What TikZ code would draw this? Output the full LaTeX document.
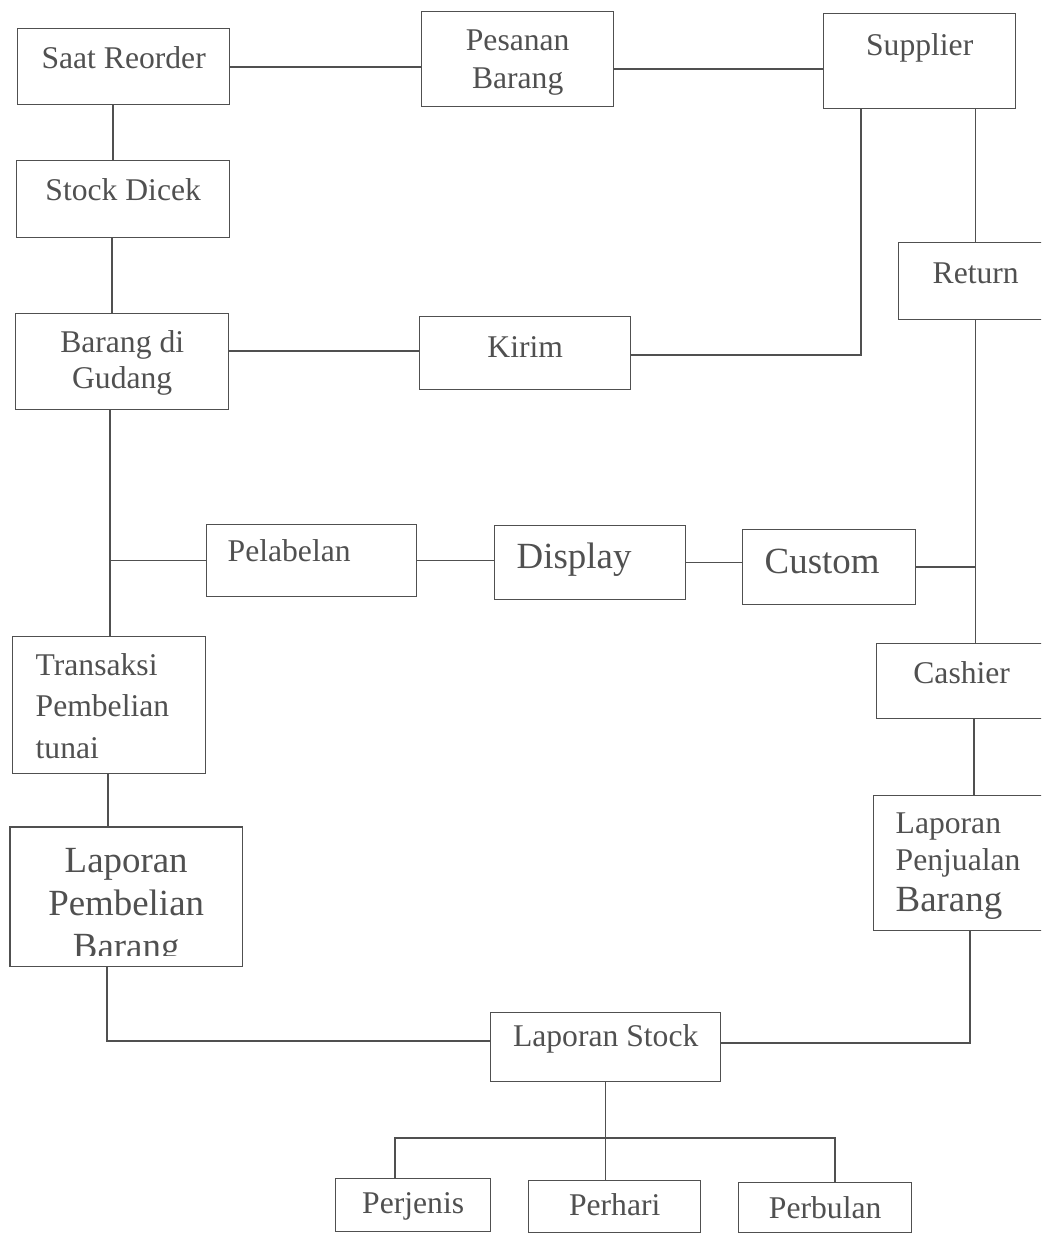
\documentclass[tikz,border=0pt]{standalone}
\usepackage{fontspec}
\setmainfont{Liberation Serif}
\definecolor{ink}{RGB}{80,80,80}
\newcommand{\boxfont}{\fontsize{18pt}{21.6pt}\selectfont}
\newcommand{\bigboxfont}{\fontsize{21pt}{24.4pt}\selectfont}
\begin{document}
\begin{tikzpicture}[
	x=0.02cm, y=-0.02cm,% one unit = one pixel of the scan
	box/.style={draw=ink, line width=0.8pt, text=ink, anchor=north west,
		inner xsep=0pt, inner ysep=0pt, font=\boxfont, align=center},
	link/.style={draw=ink, line width=0.8pt}
]
\path[use as bounding box] (0,0) rectangle (1041,1233);
\clip (0,0) rectangle (1041,1233);
%
% top row
\node(b_saat)%
    [box, minimum width=4.24cm, text height=0.8cm, text depth=0.72cm]%
    at (17,28) {Saat Reorder};%
\node(b_pesanan)%
    [box, minimum width=3.84cm, text height=1.54cm, text depth=0.36cm,
     font={\fontsize{18pt}{21.6pt}\selectfont}]%
    at (421,11) {Pesanan\\Barang};%
\node(b_supplier)%
    [box, minimum width=3.84cm, text height=0.84cm, text depth=1.06cm]%
    at (823,13) {Supplier};%
%
\node(b_stock)%
    [box, minimum width=4.26cm, text height=0.8cm, text depth=0.74cm]%
    at (16,160) {Stock Dicek};%
\node(b_return)%
    [box, minimum width=3.08cm, text height=0.82cm, text depth=0.72cm]%
    at (898,242) {Return};%
\node(b_gudang)%
    [box, minimum width=4.26cm, text height=1.5cm, text depth=0.42cm,
     font={\fontsize{18pt}{20.6pt}\selectfont}]%
    at (15,313) {Barang di\\Gudang};%
\node(b_kirim)%
    [box, minimum width=4.22cm, text height=0.82cm, text depth=0.64cm]%
    at (419,316) {Kirim};%
%
% middle row
\node(b_label)%
    [box, align=left, inner xsep=0.42cm, text width=3.36cm,
     text height=0.74cm, text depth=0.7cm]%
    at (206,524) {Pelabelan};%
\node(b_display)%
    [box, align=left, inner xsep=0.44cm, text width=2.94cm,
     text height=0.86cm, text depth=0.62cm, font=\bigboxfont]%
    at (494,525) {Display};%
\node(b_custom)%
    [box, align=left, inner xsep=0.44cm, text width=2.58cm,
     text height=0.88cm, text depth=0.62cm, font=\bigboxfont]%
    at (742,529) {Custom};%
%
\node(b_transaksi)%
    [box, align=left, inner xsep=0.46cm, text width=2.94cm,
     text height=0.78cm, text depth=1.96cm,
     font={\fontsize{18pt}{23.5pt}\selectfont}]%
    at (12,636) {Transaksi\\Pembelian\\tunai};%
\node(b_cashier)%
    [box, minimum width=3.4cm, text height=0.8cm, text depth=0.7cm]%
    at (876,643) {Cashier};%
%
% reports
\begin{scope}
\clip (0,0) rectangle (1041,955);
\node(b_lapbeli)%
    [box, draw=none, minimum width=4.62cm, text height=2.62cm, text depth=0.14cm,
     font=\bigboxfont]%
    at (10,827) {Laporan\\Pembelian\\Barang};%
\end{scope}
\draw[link] (b_lapbeli.north west) rectangle (b_lapbeli.south east);
\node(b_lapjual)%
    [box, align=left, inner xsep=0.44cm, text width=2.86cm,
     text height=0.76cm, text depth=1.94cm,
     font={\fontsize{18pt}{21pt}\selectfont}]%
    at (873,795) {Laporan\\Penjualan\\[2pt]{\fontsize{21pt}{21pt}\selectfont Barang}};%
\node(b_lapstock)%
    [box, minimum width=4.6cm, text height=0.68cm, text depth=0.7cm]%
    at (490,1012) {Laporan Stock};%
%
\node(b_perjenis)%
    [box, minimum width=3.1cm, text height=0.7cm, text depth=0.36cm]%
    at (335,1178) {Perjenis};%
\node(b_perhari)%
    [box, minimum width=3.44cm, text height=0.7cm, text depth=0.34cm]%
    at (528,1180) {Perhari};%
\node(b_perbulan)%
    [box, minimum width=3.46cm, text height=0.72cm, text depth=0.28cm]%
    at (738,1182) {Perbulan};%
%
% connectors
\draw[link] (b_saat.east |- 0,67) -- (b_pesanan.west |- 0,67);
\draw[link] (b_pesanan.east |- 0,69) -- (b_supplier.west |- 0,69);
\draw[link] (b_saat.south -| 113,0) -- (b_stock.north -| 113,0);
\draw[link] (b_stock.south -| 112,0) -- (b_gudang.north -| 112,0);
\draw[link] (b_gudang.east |- 0,351) -- (b_kirim.west |- 0,351);
\draw[link] (b_kirim.east |- 0,355) -| (b_supplier.south -| 861,0);
\draw[link] (b_supplier.south -| b_return.north) -- (b_return.north);
\draw[link] (b_return.south) -- (b_return.south |- b_cashier.north);
\draw[link] (b_gudang.south -| 110,0) -- (b_transaksi.north -| 110,0);
\draw[link] (b_label.west -| 110,0) -- (b_label.west);
\draw[link] (b_label.east) -- (b_label.east -| b_display.west);
\draw[link] (b_display.east) -- (b_display.east -| b_custom.west);
\draw[link] (b_custom.east) -- (b_custom.east -| b_return.south);
\draw[link] (b_transaksi.south -| 108,0) -- (b_lapbeli.north -| 108,0);
\draw[link] (b_cashier.south -| 974,0) -- (b_lapjual.north -| 974,0);
\draw[link] (b_lapbeli.south -| 107,0) |- (b_lapstock.west |- 0,1041);
\draw[link] (b_lapstock.east |- 0,1043) -| (b_lapjual.south -| 970,0);
%
\coordinate(c_bus) at (605,1138);
\draw[link] (b_lapstock.south) -- (b_lapstock.south |- b_perhari.north);
\draw[link] (b_perjenis.north -| 395,0) |- (c_bus) -| (b_perbulan.north -| 835,0);
%
\end{tikzpicture}
\end{document}
